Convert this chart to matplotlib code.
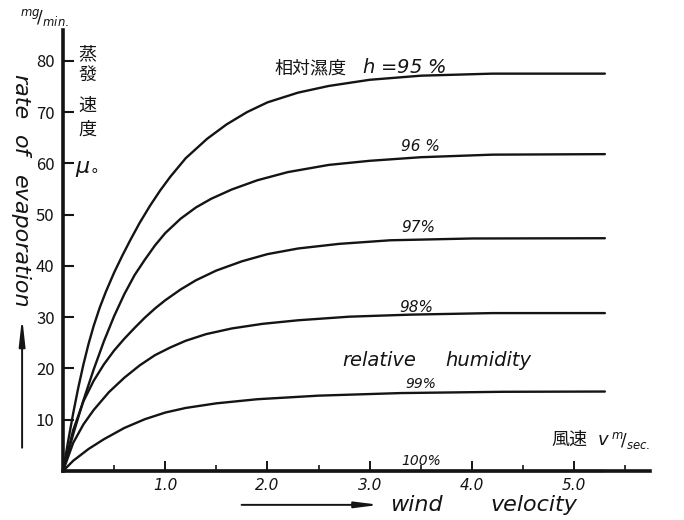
import matplotlib
matplotlib.use('Agg')
import matplotlib.pyplot as plt

plt.rcParams['font.family'] = ['Noto Sans CJK JP', 'DejaVu Sans']

# 相対湿度ごとの蒸発速度曲線 (風速 m/sec, 蒸発速度 mg/min)
x95 = [0, 0.05, 0.10, 0.15, 0.20, 0.25, 0.30, 0.36, 0.42, 0.50, 0.58, 0.66, 0.75, 0.85, 0.95,
       1.05, 1.20, 1.41, 1.60, 1.80, 2.00, 2.30, 2.60, 3.00, 3.50, 4.20, 5.30]
y95 = [0, 5.8, 11.3, 16.3, 20.8, 24.8, 28.3, 31.9, 35.0, 38.7, 42.0, 45.1, 48.4, 51.7, 54.7,
       57.4, 61.0, 64.8, 67.6, 70.0, 71.9, 73.8, 75.1, 76.3, 77.1, 77.5, 77.5]
x96 = [0, 0.10, 0.20, 0.30, 0.40, 0.50, 0.60, 0.70, 0.80, 0.90, 1.00, 1.15, 1.30, 1.45, 1.65,
       1.90, 2.20, 2.60, 3.00, 3.50, 4.20, 5.30]
y96 = [0, 7.2, 13.8, 19.8, 25.3, 30.2, 34.5, 38.2, 41.2, 44.0, 46.4, 49.2, 51.4, 53.1, 54.9,
       56.7, 58.3, 59.7, 60.5, 61.2, 61.7, 61.8]
x97 = [0, 0.10, 0.20, 0.30, 0.40, 0.50, 0.60, 0.70, 0.80, 0.90, 1.00, 1.15, 1.30, 1.50, 1.75,
       2.00, 2.30, 2.70, 3.20, 4.00, 5.30]
y97 = [0, 8.0, 13.6, 17.6, 20.8, 23.5, 25.8, 27.9, 29.9, 31.7, 33.3, 35.4, 37.2, 39.1, 40.9,
       42.3, 43.4, 44.3, 45.0, 45.35, 45.4]
x98 = [0, 0.10, 0.20, 0.30, 0.45, 0.60, 0.75, 0.90, 1.05, 1.20, 1.40, 1.65, 1.95, 2.30, 2.80,
       3.40, 4.20, 5.30]
y98 = [0, 5.5, 9.1, 11.9, 15.4, 18.2, 20.6, 22.6, 24.1, 25.4, 26.7, 27.8, 28.7, 29.4, 30.1,
       30.5, 30.8, 30.8]
x99 = [0, 0.10, 0.25, 0.40, 0.60, 0.80, 1.00, 1.20, 1.50, 1.90, 2.50, 3.30, 4.30, 5.30]
y99 = [0, 2.0, 4.3, 6.2, 8.4, 10.1, 11.4, 12.3, 13.2, 14.0, 14.7, 15.2, 15.45, 15.5]
x100 = [0, 5.30]
y100 = [0, 0]

curves = [(x95, y95), (x96, y96), (x97, y97), (x98, y98), (x99, y99), (x100, y100)]

ink = '#141414'
fig = plt.figure(figsize=(6.84, 5.2), dpi=100)
ax = fig.add_axes([0.0921, 0.0942, 0.858, 0.848])

for xs, ys in curves:
    ax.plot(xs, ys, color=ink, lw=1.7, clip_on=False, solid_capstyle='round',
            solid_joinstyle='round')

ax.set_xlim(0, 5.74)
ax.set_ylim(0, 86)
for s in ['top', 'right']:
    ax.spines[s].set_visible(False)
for s in ['left', 'bottom']:
    ax.spines[s].set_linewidth(2.6)
    ax.spines[s].set_color(ink)

ax.set_yticks([10, 20, 30, 40, 50, 60, 70, 80])
ax.tick_params(axis='y', direction='in', length=8, width=1.5, color=ink,
               labelsize=12, pad=6, labelcolor=ink)
ax.set_xticks([1, 2, 3, 4, 5])
ax.set_xticklabels(['1.0', '2.0', '3.0', '4.0', '5.0'], style='italic', family='DejaVu Sans')
ax.set_xticks([0.5, 1.5, 2.5, 3.5, 4.5, 5.5], minor=True)
ax.tick_params(axis='x', which='major', direction='in', length=7, width=1.4,
               color=ink, labelsize=11, pad=5, labelcolor=ink)
ax.tick_params(axis='x', which='minor', direction='in', length=4, width=1.2, color=ink)

it = dict(style='italic', family='DejaVu Sans', color=ink)
ax.text(2.07, 78.6, '相対濕度', fontsize=13, va='center', ha='left', color=ink)
ax.text(2.92, 78.6, '$h$ =95 %', fontsize=14, va='center', ha='left', **it)
ax.text(3.5, 63.2, '96 %', fontsize=11, ha='center', va='center', **it)
ax.text(3.48, 47.4, '97%', fontsize=11, ha='center', va='center', **it)
ax.text(3.46, 31.8, '98%', fontsize=11, ha='center', va='center', **it)
ax.text(2.73, 21.6, 'relative', fontsize=14, ha='left', va='center', **it)
ax.text(3.74, 21.6, 'humidity', fontsize=14, ha='left', va='center', **it)
ax.text(3.5, 17.0, '99%', fontsize=10, ha='center', va='center', **it)
ax.text(3.5, 1.9, '100%', fontsize=10, ha='center', va='center', **it)
ax.text(4.78, 6.0, '風速', fontsize=13, ha='left', va='center', color=ink)
ax.text(5.22, 6.0, '$v$', fontsize=13, ha='left', va='center', **it)
ax.text(5.36, 6.0, r'$^{m}\!/_{sec.}$', fontsize=12, ha='left', va='center', **it)

# 下の矢印と wind velocity
ax.annotate('', xy=(3.12, -6.6), xytext=(1.72, -6.6), annotation_clip=False,
            arrowprops=dict(arrowstyle='-|>,head_length=1.4,head_width=0.18', lw=1.4, color=ink))
ax.text(3.20, -6.6, 'wind', fontsize=16, ha='left', va='center', clip_on=False, **it)
ax.text(4.18, -6.6, 'velocity', fontsize=16, ha='left', va='center', clip_on=False, **it)

# 左の縦書き
ax.text(-0.42, 77.5, 'rate', fontsize=16, rotation=-90,
        ha='center', va='top', clip_on=False, **it)
ax.text(-0.42, 65.5, 'of', fontsize=16, rotation=-90,
        ha='center', va='top', clip_on=False, **it)
ax.text(-0.42, 57.7, 'evaporation', fontsize=16, rotation=-90,
        ha='center', va='top', clip_on=False, **it)
ax.annotate('', xy=(-0.40, 30.5), xytext=(-0.40, 4), annotation_clip=False,
            arrowprops=dict(arrowstyle='-|>,head_length=1.6,head_width=0.18', lw=1.4, color=ink))
ax.text(-0.18, 88.5, r'$^{mg}\!/_{min.}$', fontsize=12, ha='center', va='center',
        clip_on=False, **it)

jp = ['蒸', '發', '速', '度']
jp_y = [81.3, 77.2, 71.2, 66.5]
for ch, yy in zip(jp, jp_y):
    ax.text(0.235, yy, ch, fontsize=13, ha='center', va='center', color=ink)
ax.text(0.235, 59.2, r'$\mu_{\circ}$', fontsize=16, ha='center', va='center', color=ink)

fig.savefig('out.png', dpi=100, facecolor='white')
